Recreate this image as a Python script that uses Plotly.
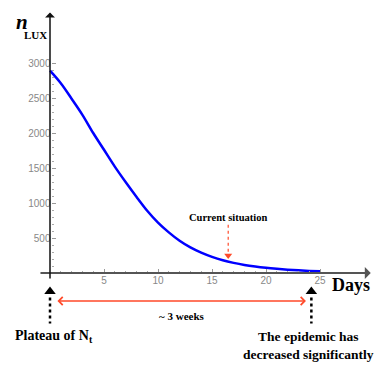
import plotly.graph_objects as go

# curve (days -> n_LUX)
days = list(range(0, 26))
n_lux = [2890, 2710, 2490, 2260, 2000, 1760, 1520, 1300, 1090, 890,
         720, 580, 460, 365, 290, 230, 182, 145, 115, 92,
         74, 60, 48, 38, 30, 24]

x_ticks = [5, 10, 15, 20, 25]
x_minor = [d for d in range(1, 25) if d % 5]
y_ticks = [500, 1000, 1500, 2000, 2500, 3000]
y_minor = [v for v in range(100, 3000, 100) if v % 500]

plateau_day = 0
current_day = 16.5
end_day = 24.2

serif = "Liberation Serif"
sans = "Liberation Sans"
red = "#ff4a2a"

# page has an 8px body margin, figure sits at 8..382
W = 374
PX_DAY = 10.8      # pixels per day
PX_UNIT = 0.07     # pixels per n_LUX unit
X0_PAGE = 50       # page x of day 0
Y0_PAGE = 273      # page y of n = 0

fig = go.Figure()

fig.add_trace(go.Scatter(x=days, y=n_lux, mode="lines", line_shape="spline",
                         line=dict(color="#0000ff", width=2.5),
                         hoverinfo="skip", cliponaxis=False))

# black triangle heads of the dotted arrows under the axis
fig.add_trace(go.Scatter(x=[plateau_day, end_day], y=[-265, -265], mode="markers",
                         marker=dict(symbol="triangle-up", size=10, color="black"),
                         hoverinfo="skip", cliponaxis=False))
# red head of the "current situation" arrow
fig.add_trace(go.Scatter(x=[current_day], y=[250], mode="markers",
                         marker=dict(symbol="triangle-down", size=7, color=red),
                         hoverinfo="skip", cliponaxis=False))

shapes = []
for d in (plateau_day, end_day):
    shapes.append(dict(type="line", xref="x", yref="y", x0=d, x1=d, y0=-350, y1=-720,
                       line=dict(color="black", width=2.5, dash="dot")))
shapes.append(dict(type="line", xref="x", yref="y", x0=current_day, x1=current_day,
                   y0=690, y1=290, line=dict(color=red, width=1.2, dash="dot")))

annotations = [
    # axes with arrowheads
    dict(x=29.7, y=0, ax=-1.02, ay=0, axref="x", ayref="y", text="", showarrow=True,
         arrowhead=1, arrowsize=1.1, arrowwidth=1.8, arrowcolor="#555555"),
    dict(x=0, y=3720, ax=0, ay=-100, axref="x", ayref="y", text="", showarrow=True,
         arrowhead=1, arrowsize=1.1, arrowwidth=1.5, arrowcolor="#111111"),
    # red double arrow (~3 weeks)
    dict(x=23.7, y=-400, ax=0.55, ay=-400, axref="x", ayref="y", text="", showarrow=True,
         arrowhead=4, startarrowhead=4, arrowside="end+start", arrowsize=1.2,
         startarrowsize=1.2, arrowwidth=1.3, arrowcolor=red),
    dict(x=-2.6, y=3590, text="<b><i>n</i></b>", showarrow=False,
         font=dict(family=serif, size=21, color="black")),
    dict(x=-1.3, y=3400, text="<b>LUX</b>", showarrow=False,
         font=dict(family=serif, size=11, color="black")),
    dict(x=27.85, y=-170, text="<b>Days</b>", showarrow=False,
         font=dict(family=serif, size=18, color="black")),
    dict(x=16.5, y=790, text="<b>Current situation</b>", showarrow=False,
         font=dict(family=serif, size=10.5, color="black")),
    dict(x=12.2, y=-615, text="<b>~ 3 weeks</b>", showarrow=False,
         font=dict(family=serif, size=11, color="black")),
    dict(x=0.4, y=-900, text="<b>Plateau of N<sub>t</sub></b>", showarrow=False,
         font=dict(family=serif, size=14, color="black")),
    dict(x=23.95, y=-1040, text="<b>The epidemic has<br>decreased significantly</b>",
         showarrow=False, align="center",
         font=dict(family=serif, size=13.5, color="black")),
]

fig.update_layout(
    width=W, height=W,
    margin=dict(l=0, r=0, t=0, b=0),
    plot_bgcolor="white", paper_bgcolor="white",
    showlegend=False,
    shapes=shapes,
    annotations=annotations,
    xaxis=dict(range=[(8 - X0_PAGE) / PX_DAY, (382 - X0_PAGE) / PX_DAY],
               anchor="free", position=(382 - Y0_PAGE) / W,
               showgrid=False, zeroline=False, showline=False,
               tickmode="array", tickvals=x_ticks, ticks="inside", ticklen=4,
               tickcolor="#999999", tickwidth=1,
               tickfont=dict(family=sans, size=10, color="#888888"),
               minor=dict(tickmode="array", tickvals=x_minor, ticks="inside",
                          ticklen=2, tickcolor="#aaaaaa", tickwidth=1),
               automargin=False),
    yaxis=dict(range=[(Y0_PAGE - 382) / PX_UNIT, (Y0_PAGE - 8) / PX_UNIT],
               anchor="free", position=(X0_PAGE + 0.5 - 8) / W,
               showgrid=False, zeroline=False, showline=False,
               tickmode="array", tickvals=y_ticks, ticks="inside", ticklen=4,
               tickcolor="#999999", tickwidth=1,
               tickfont=dict(family=sans, size=10, color="#888888"),
               minor=dict(tickmode="array", tickvals=y_minor, ticks="inside",
                          ticklen=2, tickcolor="#aaaaaa", tickwidth=1),
               automargin=False),
)

fig.write_html("out.html")
